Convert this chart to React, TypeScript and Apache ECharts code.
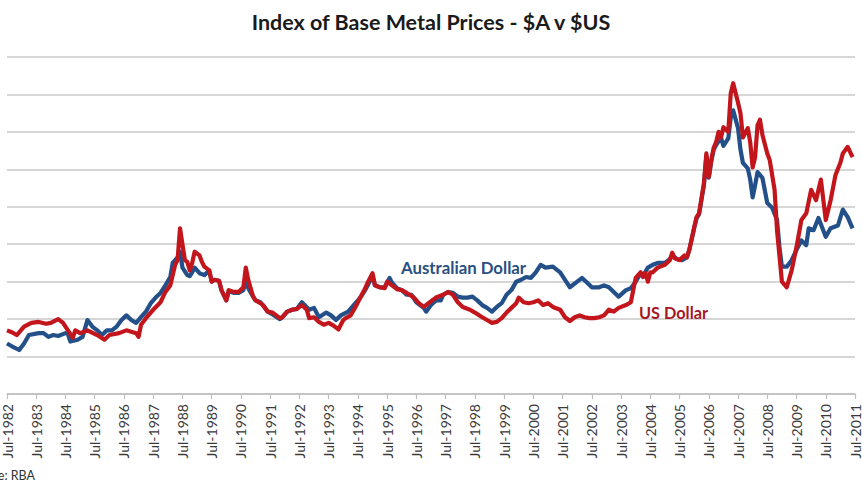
import React, { useEffect, useRef } from "react";
import * as echarts from "echarts";

// Index of base metal prices (visual reading of the picture; axis scale not visible)
const audDates = [
  "1982-07","1982-09","1982-12","1983-02","1983-04","1983-08","1983-10","1983-12","1984-02","1984-04",
  "1984-07","1984-08","1984-09","1984-12","1985-02","1985-04","1985-06","1985-08","1985-10","1985-12",
  "1986-02","1986-04","1986-06","1986-08","1986-10","1986-12","1987-02","1987-04","1987-06","1987-08",
  "1987-10","1987-12","1988-02","1988-03","1988-05","1988-06","1988-07","1988-09","1988-10","1988-11",
  "1988-12","1989-02","1989-04","1989-06","1989-07","1989-08","1989-10","1989-11","1990-01","1990-02",
  "1990-04","1990-06","1990-08","1990-09","1990-10","1990-12","1991-01","1991-03","1991-04","1991-06",
  "1991-08","1991-11","1991-12","1992-02","1992-04","1992-06","1992-08","1992-11","1993-01","1993-03",
  "1993-06","1993-08","1993-10","1993-12","1994-03","1994-06","1994-08","1994-10","1994-11","1995-01",
  "1995-02","1995-04","1995-06","1995-08","1995-09","1995-11","1996-01","1996-03","1996-05","1996-07",
  "1996-10","1996-11","1997-01","1997-03","1997-05","1997-06","1997-08","1997-10","1997-12","1998-02",
  "1998-04","1998-06","1998-08","1998-10","1998-12","1999-02","1999-04","1999-06","1999-08","1999-10",
  "1999-12","2000-02","2000-04","2000-06","2000-08","2000-10","2000-12","2001-03","2001-06","2001-08",
  "2001-10","2002-01","2002-03","2002-05","2002-07","2002-10","2002-12","2003-02","2003-04","2003-06",
  "2003-09","2003-11","2004-01","2004-03","2004-04","2004-06","2004-08","2004-10","2005-01","2005-03",
  "2005-04","2005-06","2005-08","2005-10","2005-11","2006-01","2006-02","2006-03","2006-05","2006-06",
  "2006-07","2006-08","2006-09","2006-10","2006-12","2007-01","2007-03","2007-04","2007-05","2007-07",
  "2007-08","2007-09","2007-11","2007-12","2008-01","2008-02","2008-03","2008-05","2008-07","2008-09",
  "2008-11","2008-12","2009-01","2009-03","2009-05","2009-07","2009-09","2009-11","2009-12","2010-02",
  "2010-04","2010-07","2010-09","2010-12","2011-02","2011-04","2011-06"
];
const audValues = [
  54,51,47,54,63,65,65,61,63,62,
  65,64,56,58,61,79,72,68,63,68,
  68,72,79,84,79,76,82,88,97,103,
  108,116,125,140,146,152,135,127,126,130,
  135,129,127,132,120,122,121,111,100,110,
  108,108,111,122,113,104,100,98,95,88,
  85,80,82,88,90,91,98,90,92,82,
  87,84,79,84,88,97,103,111,116,126,
  116,114,114,124,119,113,111,106,106,98,
  92,88,95,100,100,106,109,108,104,103,
  103,104,100,95,92,88,93,97,106,111,
  120,122,125,124,130,138,135,136,130,122,
  114,120,124,119,114,114,116,114,109,104,
  111,113,120,129,126,135,138,140,140,144,
  148,144,143,146,154,177,188,192,223,254,
  231,248,261,266,274,265,273,295,303,284,
  261,247,241,229,210,223,237,231,204,199,
  186,157,136,136,143,154,164,159,177,175,
  188,168,177,180,197,189,177
];

const usdDates = [
  "1982-07","1982-09","1982-11","1983-02","1983-05","1983-08","1983-11","1984-01","1984-04","1984-06",
  "1984-08","1984-10","1984-11","1985-01","1985-04","1985-08","1985-11","1986-01","1986-05","1986-08",
  "1986-12","1987-01","1987-02","1987-04","1987-07","1987-10","1987-12","1988-02","1988-04","1988-05",
  "1988-06","1988-08","1988-09","1988-10","1988-11","1988-12","1989-02","1989-03","1989-04","1989-06",
  "1989-07","1989-08","1989-10","1989-11","1990-01","1990-02","1990-04","1990-06","1990-08","1990-09",
  "1990-10","1990-12","1991-01","1991-03","1991-04","1991-06","1991-08","1991-11","1991-12","1992-02",
  "1992-04","1992-06","1992-08","1992-10","1992-11","1993-01","1993-03","1993-05","1993-07","1993-09",
  "1993-11","1994-01","1994-02","1994-04","1994-06","1994-07","1994-08","1994-10","1994-11","1995-01",
  "1995-02","1995-04","1995-06","1995-07","1995-09","1995-11","1996-01","1996-03","1996-06","1996-08",
  "1996-10","1996-12","1997-03","1997-06","1997-08","1997-10","1997-12","1998-02","1998-05","1998-07",
  "1998-10","1998-12","1999-02","1999-04","1999-06","1999-08","1999-10","1999-12","2000-01","2000-03",
  "2000-05","2000-07","2000-09","2000-11","2001-01","2001-03","2001-06","2001-08","2001-10","2001-12",
  "2002-02","2002-04","2002-06","2002-08","2002-10","2002-12","2003-02","2003-04","2003-06","2003-09",
  "2003-11","2003-12","2004-01","2004-03","2004-04","2004-05","2004-06","2004-07","2004-08","2004-10",
  "2005-01","2005-03","2005-04","2005-05","2005-07","2005-09","2005-10","2005-11","2006-01","2006-02",
  "2006-03","2006-05","2006-06","2006-07","2006-08","2006-09","2006-10","2006-11","2006-12","2007-01",
  "2007-03","2007-04","2007-05","2007-07","2007-08","2007-09","2007-11","2007-12","2008-01","2008-02",
  "2008-03","2008-04","2008-05","2008-07","2008-08","2008-10","2008-11","2009-01","2009-03","2009-05",
  "2009-07","2009-09","2009-11","2010-01","2010-03","2010-05","2010-07","2010-09","2010-11","2011-01",
  "2011-02","2011-04","2011-06"
];
const usdValues = [
  68,66,63,72,76,77,75,76,80,76,
  68,60,68,65,68,63,58,63,65,68,
  65,61,74,81,90,98,109,116,138,143,
  177,143,141,132,140,152,148,141,136,132,
  120,122,121,111,100,111,109,109,114,135,
  122,104,100,97,95,88,87,81,82,88,
  90,91,95,90,81,82,77,74,76,73,
  69,79,81,84,93,98,103,113,119,129,
  116,114,113,120,116,112,111,108,103,97,
  93,97,103,106,109,106,98,93,90,87,
  82,79,76,77,81,87,92,97,103,98,
  97,98,100,95,97,93,90,82,78,82,
  84,82,81,81,82,84,90,88,92,95,
  98,111,124,130,125,129,120,130,130,135,
  138,143,151,145,143,148,146,154,178,189,
  193,225,257,232,250,263,269,280,274,285,
  280,321,332,311,300,274,284,269,242,253,
  287,293,277,257,250,218,175,120,114,132,
  157,186,193,218,207,229,186,207,234,247,
  257,264,253
];

// x-axis ticks: every July from Jul-1982 to Jul-2011
const firstTickYear = 1982;
const lastTickYear = 2011;

const title = "Index of Base Metal Prices - $A v $US";
const audLabel = "Australian Dollar";
const usdLabel = "US Dollar";
const sourceText = "Source: RBA";

const monthIndex = (s: string) => {
  const [y, m] = s.split("-").map(Number);
  return (y - firstTickYear) * 12 + (m - 7);
};

export default function App() {
  const ref = useRef<HTMLDivElement>(null);
  useEffect(() => {
    if (!ref.current) return;
    const chart = echarts.init(ref.current, undefined, { renderer: "svg" });
    const aud = audDates.map((d, i) => [monthIndex(d), audValues[i]]);
    const usd = usdDates.map((d, i) => [monthIndex(d), usdValues[i]]);
    chart.setOption({
      animation: false,
      backgroundColor: "#ffffff",
      grid: { left: -5, right: -2, top: 57, bottom: 91, containLabel: false },
      xAxis: {
        type: "value",
        min: 0,
        max: (lastTickYear - firstTickYear) * 12,
        interval: 12,
        splitLine: { show: false },
        axisLine: { show: true, lineStyle: { color: "#BFBFBF", width: 1.5 } },
        axisTick: { show: true, length: 5, lineStyle: { color: "#BFBFBF", width: 1.2 } },
        axisLabel: {
          rotate: 90,
          margin: 10,
          color: "#3a3a3a",
          fontFamily: "Lato",
          fontSize: 14,
          formatter: (v: number) => `Jul-${firstTickYear + Math.round(v / 12)}`,
        },
      },
      yAxis: {
        type: "value",
        min: 0,
        max: 360,
        interval: 40,
        axisLine: { show: false },
        axisTick: { show: false },
        axisLabel: { show: false },
        splitLine: { show: true, lineStyle: { color: "#C8C8C8", width: 1.5 } },
      },
      series: [
        {
          name: audLabel,
          type: "line",
          data: aud,
          showSymbol: false,
          symbol: "none",
          lineStyle: { color: "#24508A", width: 4.2, join: "round" },
          z: 2,
        },
        {
          name: usdLabel,
          type: "line",
          data: usd,
          showSymbol: false,
          symbol: "none",
          lineStyle: { color: "#C3161C", width: 4.2, join: "round" },
          z: 3,
        },
      ],
      graphic: [
        {
          type: "text",
          x: 431,
          y: 22,
          style: {
            text: title,
            fontFamily: "Lato",
            fontWeight: "bold",
            fontSize: 21.5,
            fill: "#1a1a1a",
            textAlign: "center",
            textVerticalAlign: "middle",
          },
        },
        {
          type: "text",
          x: 401,
          y: 267,
          z: 10,
          style: {
            text: audLabel,
            fontFamily: "Lato",
            fontWeight: "bold",
            fontSize: 16.8,
            fill: "#2A4F80",
            textAlign: "left",
            textVerticalAlign: "middle",
          },
        },
        {
          type: "text",
          x: 639,
          y: 312,
          z: 10,
          style: {
            text: usdLabel,
            fontFamily: "Lato",
            fontWeight: "bold",
            fontSize: 16.3,
            fill: "#A6171F",
            textAlign: "left",
            textVerticalAlign: "middle",
          },
        },
        {
          type: "text",
          x: 35,
          y: 475,
          style: {
            text: sourceText,
            fontFamily: "Lato",
            fontSize: 12.5,
            fill: "#333333",
            textAlign: "right",
            textVerticalAlign: "middle",
          },
        },
      ],
    });
    return () => chart.dispose();
  }, []);
  return (
    <div
      ref={ref}
      style={{ position: "fixed", left: 0, top: 0, width: 862, height: 485, background: "#fff" }}
    />
  );
}
